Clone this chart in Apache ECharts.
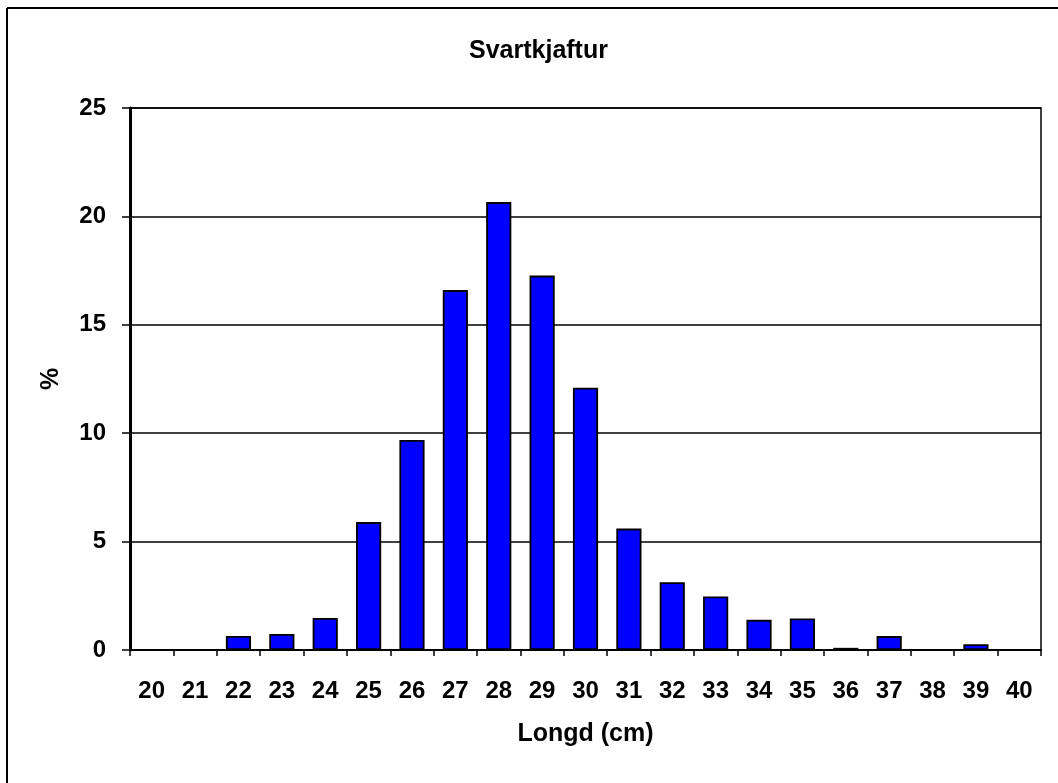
<!DOCTYPE html>
<html>
<head>
<meta charset="utf-8">
<script src="https://cdn.jsdelivr.net/npm/echarts@6/dist/echarts.min.js"></script>
<style>
    html, body { margin: 0; padding: 0; background: #fff; }
    #chart { width: 1058px; height: 783px; }
</style>
</head>
<body>
<div id="chart"></div>
<script>
// Lengdardreifing - svartkjaftur
const LENGTHS = ['20', '21', '22', '23', '24', '25', '26', '27', '28', '29', '30',
                 '31', '32', '33', '34', '35', '36', '37', '38', '39', '40'];
const PERCENT = [0, 0, 0.65, 0.74, 1.48, 5.9, 9.69, 16.6, 20.66, 17.27, 12.1,
                 5.6, 3.13, 2.47, 1.39, 1.45, 0.1, 0.64, 0, 0.27, 0];
const Y_TICKS = { min: 0, max: 25, interval: 5 };

const FONT = 'Arial, "Liberation Sans", sans-serif';

const chart = echarts.init(document.getElementById('chart'), null, { renderer: 'canvas' });

const option = {
    backgroundColor: '#fff',
    animation: false,
    title: {
        text: 'Svartkjaftur',
        left: 469, top: 39, padding: 0,
        textStyle: { fontFamily: FONT, fontSize: 25, fontWeight: 'bold', color: '#000' }
    },
    grid: {
        left: 130, right: 17, top: 108, bottom: 133,
        show: true, borderColor: '#000', borderWidth: 1.5
    },
    xAxis: {
        type: 'category',
        data: LENGTHS,
        name: 'Longd (cm)',
        nameLocation: 'middle',
        nameGap: 72,
        nameTextStyle: { fontFamily: FONT, fontSize: 25, fontWeight: 'bold', color: '#000' },
        axisLine: { lineStyle: { color: '#000', width: 2 } },
        axisTick: { show: true, length: 6, lineStyle: { color: '#000', width: 1.5 } },
        axisLabel: { fontFamily: FONT, fontSize: 24, fontWeight: 'bold', color: '#000', margin: 29, interval: 0 },
        splitLine: { show: false }
    },
    yAxis: {
        type: 'value',
        min: Y_TICKS.min, max: Y_TICKS.max, interval: Y_TICKS.interval,
        name: '%',
        nameLocation: 'middle',
        nameRotate: 90,
        nameGap: 66,
        nameTextStyle: { fontFamily: FONT, fontSize: 25, fontWeight: 'bold', color: '#000' },
        axisLine: { show: true, lineStyle: { color: '#000', width: 3 } },
        axisTick: { show: true, length: 8, lineStyle: { color: '#000', width: 1.5 } },
        axisLabel: { fontFamily: FONT, fontSize: 24, fontWeight: 'bold', color: '#000', margin: 24 },
        splitLine: { show: true, lineStyle: { color: '#000', width: 1.5 } }
    },
    series: [{
        type: 'bar',
        data: PERCENT,
        barWidth: '58%',
        itemStyle: { color: '#0000ff', borderColor: '#000', borderWidth: 1.8 }
    }],
    graphic: [
        { type: 'line', shape: { x1: 7, y1: 8, x2: 7, y2: 783 }, style: { stroke: '#000', lineWidth: 2 } },
        { type: 'line', shape: { x1: 7, y1: 8, x2: 1058, y2: 8 }, style: { stroke: '#000', lineWidth: 2 } }
    ]
};
chart.setOption(option);
</script>
</body>
</html>
